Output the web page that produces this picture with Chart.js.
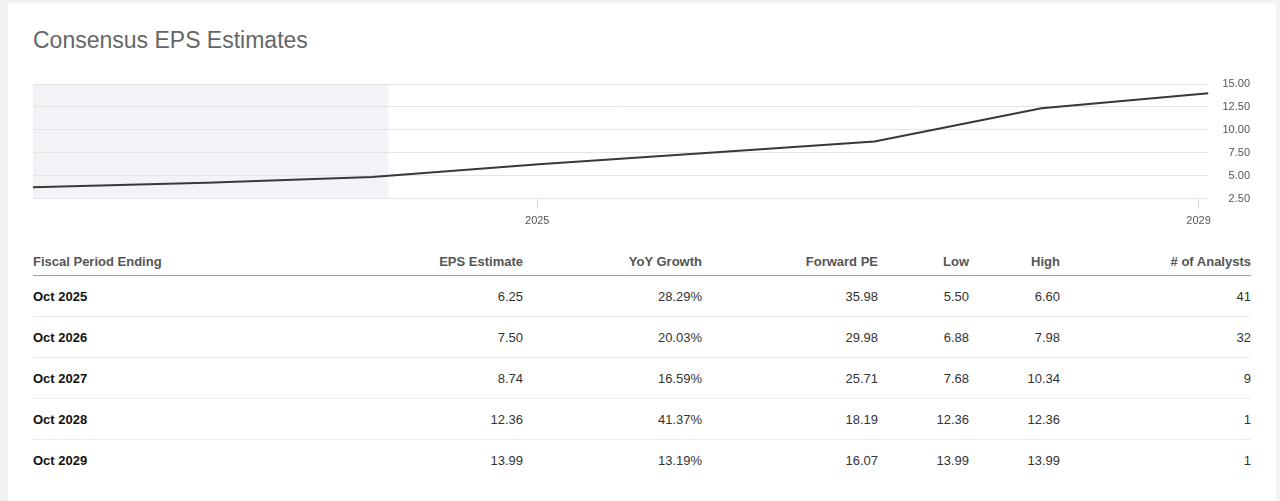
<!DOCTYPE html>
<html>
<head>
<meta charset="utf-8">
<script src="https://cdn.jsdelivr.net/npm/chart.js@4.4.1/dist/chart.umd.min.js"></script>
<style>
  html, body { margin: 0; padding: 0; }
  body { width: 1280px; height: 501px; background: #f2f2f2; position: relative; overflow: hidden;
         font-family: "Liberation Sans", Arial, sans-serif; }
  .card { position: absolute; left: 8px; top: 3px; width: 1268px; height: 520px; background: #fff; }
  .title { position: absolute; left: 33px; top: 29px; font-size: 23px; line-height: 23px; color: #666; white-space: nowrap; }
  .chart-box { position: absolute; left: 33px; top: 77px; width: 1217px; height: 157px; }
  table { position: absolute; left: 33px; top: 248px; width: 1218px; border-collapse: collapse; table-layout: fixed; font-size: 13px; }
  th { font-weight: bold; color: #555; height: 27px; padding: 0; border-bottom: 1px solid #a0a0a0; text-align: right; white-space: nowrap; }
  td { height: 40px; padding: 0; color: #333; text-align: right; border-bottom: 1px solid #ececec; white-space: nowrap; }
  tr:last-child td { border-bottom: none; }
  th:first-child, td:first-child { text-align: left; }
  td:first-child { font-weight: bold; color: #111; }
</style>
</head>
<body>
<div class="card"></div>
<div class="title">Consensus EPS Estimates</div>
<div class="chart-box"><canvas id="eps-chart"></canvas></div>
<table id="eps-table"></table>

<script>
'use strict';

// chart series (x = position in years on the time axis)
const chartDates = [2021.95, 2023.0, 2024.0, 2025.01, 2026.02, 2027.04, 2028.05, 2029.06];
const chartEps = [3.75, 4.24, 4.87, 6.25, 7.50, 8.74, 12.36, 13.99];
const actualsUntil = 2024.1;
const xTicks = [2025, 2029];
const yTicks = [2.5, 5, 7.5, 10, 12.5, 15];

// table
const headers = ['Fiscal Period Ending', 'EPS Estimate', 'YoY Growth', 'Forward PE', 'Low', 'High', '# of Analysts'];
const periods = ['Oct 2025', 'Oct 2026', 'Oct 2027', 'Oct 2028', 'Oct 2029'];
const epsEstimate = ['6.25', '7.50', '8.74', '12.36', '13.99'];
const yoyGrowth = ['28.29%', '20.03%', '16.59%', '41.37%', '13.19%'];
const forwardPE = ['35.98', '29.98', '25.71', '18.19', '16.07'];
const lowEst = ['5.50', '6.88', '7.68', '12.36', '13.99'];
const highEst = ['6.60', '7.98', '10.34', '12.36', '13.99'];
const analysts = ['41', '32', '9', '1', '1'];

function renderTable() {
  const widths = [290, 200, 179, 176, 91, 91, 191];
  const cols = '<colgroup>' + widths.map(w => `<col style="width:${w}px">`).join('') + '</colgroup>';
  const head = '<tr>' + headers.map(h => `<th>${h}</th>`).join('') + '</tr>';
  const rows = periods.map((p, i) => `
    <tr>
      <td>${p}</td><td>${epsEstimate[i]}</td><td>${yoyGrowth[i]}</td><td>${forwardPE[i]}</td>
      <td>${lowEst[i]}</td><td>${highEst[i]}</td><td>${analysts[i]}</td>
    </tr>`).join('');
  document.getElementById('eps-table').innerHTML = cols + head + rows;
}

// grey band behind the reported (past) period
const actualsBand = {
  id: 'actualsBand',
  beforeDraw(chart) {
    const { ctx, chartArea, scales } = chart;
    const xEnd = scales.x.getPixelForValue(actualsUntil);
    ctx.save();
    ctx.fillStyle = '#f2f3f7';
    ctx.fillRect(chartArea.left, chartArea.top, xEnd - chartArea.left, chartArea.bottom - chartArea.top);
    ctx.restore();
  }
};

function renderChart() {
  const ctx = document.getElementById('eps-chart');
  new Chart(ctx, {
    type: 'line',
    data: {
      datasets: [{
        data: chartDates.map((d, i) => ({ x: d, y: chartEps[i] })),
        borderColor: '#383838',
        borderWidth: 2,
        pointRadius: 0,
        tension: 0
      }]
    },
    options: {
      responsive: true,
      maintainAspectRatio: false,
      animation: false,
      layout: { padding: 0 },
      plugins: { legend: { display: false }, tooltip: { enabled: false } },
      scales: {
        x: {
          type: 'linear',
          min: chartDates[0],
          max: chartDates[chartDates.length - 1],
          afterBuildTicks: axis => { axis.ticks = xTicks.map(v => ({ value: v })); },
          border: { display: false },
          grid: { drawOnChartArea: false, drawTicks: true, tickLength: 10, color: '#d6d6d6' },
          ticks: { color: '#555', font: { size: 11, family: 'Liberation Sans' }, padding: 6, maxRotation: 0, callback: v => String(v) }
        },
        y: {
          position: 'right',
          min: 2.5,
          max: 15,
          afterBuildTicks: axis => { axis.ticks = yTicks.map(v => ({ value: v })); },
          afterFit: axis => { axis.paddingTop = 7; axis.paddingBottom = 0; },
          border: { display: false },
          grid: { drawTicks: false, color: '#e4e4e4' },
          ticks: { color: '#555', font: { size: 11, family: 'Liberation Sans' }, padding: 7, crossAlign: 'far', callback: v => v.toFixed(2) }
        }
      }
    },
    plugins: [actualsBand]
  });
}

renderTable();
renderChart();
</script>
</body>
</html>
